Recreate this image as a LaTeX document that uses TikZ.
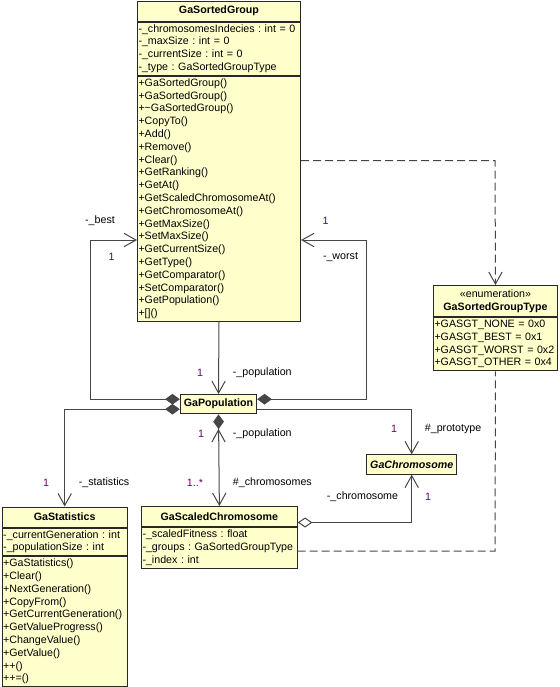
\documentclass[tikz,border=0pt]{standalone}
\usepackage{fontspec}
\setmainfont{Liberation Sans}
\usetikzlibrary{arrows.meta,positioning,calc}

\definecolor{umlfill}{RGB}{255,255,204}
\definecolor{boxcol}{RGB}{40,40,40}
\definecolor{linecol}{RGB}{70,70,70}
\definecolor{multcol}{RGB}{102,0,102}

\begin{document}
\begin{tikzpicture}[
  x=0.75pt, y=-0.75pt,
  every node/.style={font=\fontsize{8}{9.6}\selectfont},
  title/.style={draw=boxcol, fill=umlfill, line width=0.75pt, inner sep=0pt,
    minimum width=#1, minimum height=15pt, align=center,
    font=\fontsize{8}{9.6}\selectfont\bfseries},
  members/.style={draw=boxcol, fill=umlfill, line width=0.75pt, align=left,
    text width=#1, inner xsep=0.75pt, inner ysep=0.8pt,
    execute at begin node=\strut, execute at end node=\strut},
  single/.style={draw=boxcol, fill=umlfill, line width=0.75pt, inner sep=0pt,
    minimum height=14.5pt, font=\fontsize{8}{9.6}\selectfont\bfseries},
  role/.style={inner sep=0.5pt},
  mult/.style={role, text=multcol},
  assoc/.style={draw=linecol, line width=0.75pt, -{Straight Barb[length=9pt, width=10pt]}},
  comp/.style={draw=linecol, line width=0.75pt,
    {Diamond[length=11pt, width=8pt]}-{Straight Barb[length=9pt, width=10pt]}},
  aggr/.style={draw=linecol, line width=0.75pt,
    {Diamond[length=11pt, width=7.5pt, fill=white]}-{Straight Barb[length=9pt, width=10pt]}},
  dep/.style={draw=linecol, line width=0.75pt, dash pattern=on 6pt off 3pt,
    -{Straight Barb[length=9pt, width=10pt]}},
]
\useasboundingbox (0,0) rectangle (560,687);

% classes
\node[title=122.25pt, anchor=north west] (sg) at (137,0.5) {GaSortedGroup};
\node[members=120.75pt, below=0pt of sg] (sga) {%
  -\_chromosomesIndecies~:~int~=~0\\-\_maxSize~:~int~=~0\\
  -\_currentSize~:~int~=~0\\-\_type~:~GaSortedGroupType};
\node[members=120.75pt, below=0pt of sga] (sgo) {%
  +GaSortedGroup()\\+GaSortedGroup()\\+\textasciitilde GaSortedGroup()\\+CopyTo()\\
  +Add()\\+Remove()\\+Clear()\\+GetRanking()\\+GetAt()\\+GetScaledChromosomeAt()\\
  +GetChromosomeAt()\\+GetMaxSize()\\+SetMaxSize()\\+GetCurrentSize()\\+GetType()\\
  +GetComparator()\\+SetComparator()\\+GetPopulation()\\+[]()};

\node[title=93pt, minimum height=23.25pt, anchor=north west] (enum) at (433,285)
  {{\mdseries\guillemotleft enumeration\guillemotright}\\GaSortedGroupType};
\node[members=91.5pt, below=0pt of enum] (enuma) {%
  +GASGT\_NONE~=~0x0\\+GASGT\_BEST~=~0x1\\+GASGT\_WORST~=~0x2\\+GASGT\_OTHER~=~0x4};

\node[single, minimum width=57.3pt] (pop) at (218.5,404.2) {GaPopulation};
\node[single, minimum width=67.5pt, font=\fontsize{8}{9.6}\selectfont\bfseries\itshape]
  (chr) at (411.7,464.5) {GaChromosome};

\node[title=93.75pt, anchor=north west] (stat) at (1.7,506.5) {GaStatistics};
\node[members=92.25pt, below=0pt of stat] (stata) {%
  -\_currentGeneration~:~int\\-\_populationSize~:~int};
\node[members=92.25pt, below=0pt of stata] (stato) {%
  +GaStatistics()\\+Clear()\\+NextGeneration()\\+CopyFrom()\\
  +GetCurrentGeneration()\\+GetValueProgress()\\+ChangeValue()\\+GetValue()\\
  ++()\\++=()};

\node[title=116.8pt, anchor=north west] (sc) at (141,506) {GaScaledChromosome};
\node[members=115.3pt, below=0pt of sc] (sca) {%
  -\_scaledFitness~:~float\\-\_groups~:~GaSortedGroupType\\-\_index~:~int};

% bends
\coordinate (bestbend) at (90.7,240);
\coordinate (worstbend) at (366,240);
\coordinate (depA) at (495,160.7);
\coordinate (depB) at (495,551);

% connectors
\draw[comp] ([yshift=3.75pt]pop.west) -| (bestbend) -- (bestbend -| sgo.west);
\draw[comp] ([yshift=3.75pt]pop.east) -| (worstbend) -- (worstbend -| sgo.east);
\draw[assoc] (sgo.south) -- (pop.north);
\draw[comp] ([yshift=-3.75pt]pop.west) -| (stat.north);
\draw[assoc] ([yshift=-3.75pt]pop.east) -| (chr.north);
\draw[comp] (pop.south) -- (sc.north);
\draw[assoc] ([yshift=-20pt]pop.south) -- ([yshift=-11pt]pop.south);
\draw[aggr] ([yshift=-4.5pt]sc.east) -| (chr.south);
\draw[dep] (depA -| sgo.east) -- (depA) -- (enum.north);
\draw[dep, -] (depB -| sca.east) -- (depB) -- (enuma.south);

% labels
\node[role] (lbest) at (100,220.7) {-\_best};
\node[mult] (mbest) at (111.7,257.3) {1};
\node[mult] (mworst) at (325.7,220.7) {1};
\node[role] (lworst) at (340.5,257.3) {-\_worst};
\node[mult] (mpopa) at (200,373) {1};
\node[role, anchor=west] (lpopa) at (232,373) {-\_population};
\node[mult] (mpopb) at (201,434) {1};
\node[role, anchor=west] (lpopb) at (232,434) {-\_population};
\node[mult] (mproto) at (394,429) {1};
\node[role, anchor=west] (lproto) at (424,429) {\#\_prototype};
\node[mult] (mstat) at (46,483) {1};
\node[role, anchor=west] (lstat) at (78,483) {-\_statistics};
\node[mult] (mchrs) at (195,483) {1..*};
\node[role, anchor=west] (lchrs) at (232,483) {\#\_chromosomes};
\node[role, anchor=west] (lchr) at (326,497) {-\_chromosome};
\node[mult] (mchr) at (428,497) {1};
\end{tikzpicture}
\end{document}
